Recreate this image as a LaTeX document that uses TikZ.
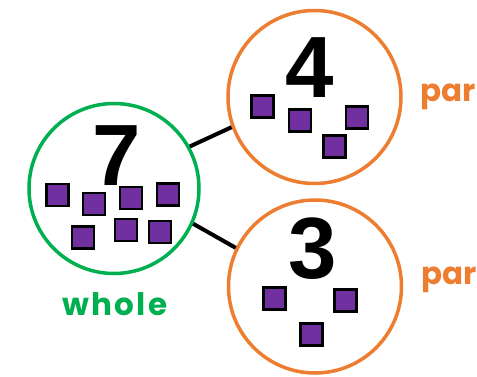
\documentclass[tikz,border=0pt]{standalone}
\usepackage{fontspec}
\setmainfont{Liberation Sans}
\newfontfamily\popfont{Poppins}[LetterSpace=7]
\newfontfamily\parfont{Poppins}[LetterSpace=1]
\definecolor{wgreen}{HTML}{00B050}
\definecolor{porange}{HTML}{ED7D31}
\definecolor{cpurple}{HTML}{7030A0}
\begin{document}
\begin{tikzpicture}[x=1pt,y=-1pt,
  wholecirc/.style={circle,draw=wgreen,line width=3.5pt,minimum size=170pt,inner sep=0pt},
  partcirc/.style={circle,draw=porange,line width=3.5pt,minimum size=173pt,inner sep=0pt},
  cube/.style={rectangle,draw=black,fill=cpurple,line width=2.6pt,minimum size=22pt,inner sep=0pt},
  digit/.style={font=\fontsize{87}{87}\selectfont\bfseries,anchor=base,inner sep=0pt},
  lbl/.style={font=\popfont\bfseries\fontsize{31}{31}\selectfont,anchor=base,inner sep=0pt},
  partlbl/.style={font=\parfont\bfseries\fontsize{31}{31}\selectfont,anchor=base west,inner sep=0pt,text=porange},
  link/.style={draw=black,line width=4pt}]
\useasboundingbox (0,0) rectangle (477,376);
\node[wholecirc] (w) at (114,188.5) {};
\node[partcirc] (t) at (314.5,97) {};
\node[partcirc] (b) at (315,286.5) {};
\draw[link] (w.29.6) -- (t.200);
\draw[link] (w.-24) -- (b.154);
\node[digit] (d7) at (117,185) {7};
\node[digit] (d4) at (309.5,97) {4};
\node[digit] (d3) at (312.5,278) {3};
\node[cube] (w1) at (57.5,195) {};
\node[cube] (w2) at (94,204) {};
\node[cube] (w3) at (131,198) {};
\node[cube] (w4) at (168,194.5) {};
\node[cube] (w5) at (83,237.5) {};
\node[cube] (w6) at (126,230) {};
\node[cube] (w7) at (160,232) {};
\node[cube] (t1) at (262.5,106.5) {};
\node[cube] (t2) at (300,120.5) {};
\node[cube] (t3) at (357,117.5) {};
\node[cube] (t4) at (334.5,146.5) {};
\node[cube] (b1) at (274.5,298.5) {};
\node[cube] (b2) at (345.5,300.5) {};
\node[cube] (b3) at (311.5,334.5) {};
\node[lbl,text=wgreen] (wl) at (115,315.5) {whole};
\node[partlbl] (tl) at (420,101.5) {par};
\node[partlbl] (bl) at (421,284.5) {par};
\end{tikzpicture}
\end{document}
